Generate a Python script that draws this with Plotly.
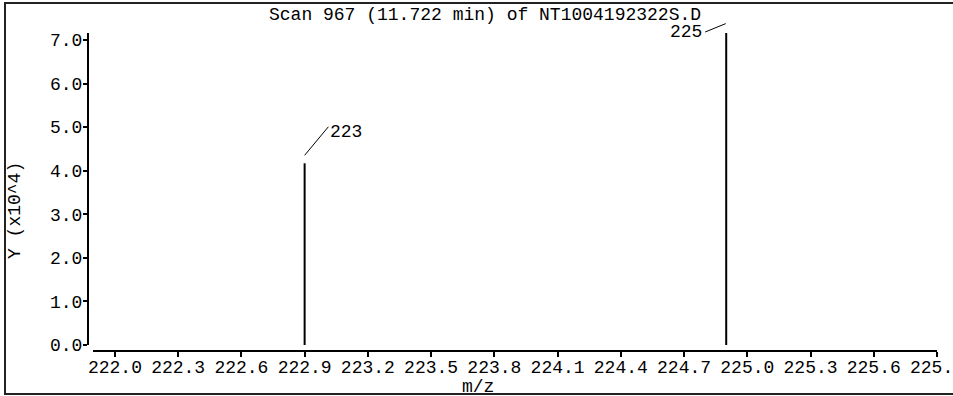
import plotly.graph_objects as go

# ---- data ----
peak_mz = [222.9, 224.9]
peak_intensity = [41700, 71600]
peak_labels = ["223", "225"]

x_tick_vals = [222.0, 222.3, 222.6, 222.9, 223.2, 223.5, 223.8, 224.1,
               224.4, 224.7, 225.0, 225.3, 225.6, 225.9]
x_tick_text = ["222.0", "222.3", "222.6", "222.9", "223.2", "223.5", "223.8",
               "224.1", "224.4", "224.7", "225.0", "225.3", "225.6", "225.9"]
y_tick_vals = [0, 10000, 20000, 30000, 40000, 50000, 60000, 70000]
y_tick_text = ["0.0", "1.0", "2.0", "3.0", "4.0", "5.0", "6.0", "7.0"]

title_text = "Scan 967 (11.722 min) of NT1004192322S.D"
x_title = "m/z"
y_title = "Y (x10^4)"

x_range = [221.896, 225.9]
y_range = [0, 71600]

FONT = "Liberation Mono"
FS = 18

# ---- build stick spectrum ----
xs, ys = [], []
for mz, inten in zip(peak_mz, peak_intensity):
    xs += [mz, mz, None]
    ys += [0, inten, None]

fig = go.Figure()
fig.add_trace(go.Scatter(x=xs, y=ys, mode="lines",
                         line=dict(color="black", width=2),
                         hoverinfo="skip", showlegend=False))

W, H = 953, 396
ml, mr, mt, mb = 88, 16, 33, 45
pw = W - ml - mr
ph = H - mt - mb

fig.update_layout(
    width=W, height=H,
    margin=dict(l=ml, r=mr, t=mt, b=mb, pad=0, autoexpand=False),
    paper_bgcolor="white", plot_bgcolor="white",
    font=dict(family=FONT, size=FS, color="black"),
    showlegend=False,
    xaxis=dict(range=x_range, domain=[5 / pw, 1], anchor="free", position=0,
               automargin=False,
               showgrid=False, zeroline=False, showline=True,
               linecolor="black", linewidth=2,
               ticks="outside", ticklen=5, tickwidth=2, tickcolor="black",
               tickvals=x_tick_vals, ticktext=x_tick_text,
               ticklabeloverflow="allow", ticklabelstandoff=-6,
               tickfont=dict(family=FONT, size=FS, color="black")),
    yaxis=dict(range=y_range, domain=[6 / ph, 1], anchor="free", position=0,
               automargin=False,
               showgrid=False, zeroline=False, showline=True,
               linecolor="black", linewidth=2,
               ticks="outside", ticklen=4, tickwidth=2, tickcolor="black",
               tickvals=y_tick_vals, ticktext=y_tick_text,
               ticklabelstandoff=-3,
               tickfont=dict(family=FONT, size=FS, color="black")),
)

# outer frame
fig.add_shape(type="rect", xref="paper", yref="paper",
              x0=(5 - ml) / pw, x1=1.2,
              y0=(H - mb - 394) / ph, y1=(H - mb - 3) / ph,
              line=dict(color="#222", width=2), fillcolor="rgba(0,0,0,0)")

annotations = [
    dict(text=title_text, xref="paper", yref="paper",
         x=(485 - ml) / pw, y=(H - mb - 15) / ph,
         xanchor="center", yanchor="middle", showarrow=False),
    dict(text=x_title, xref="paper", yref="paper",
         x=(478 - ml) / pw, y=(H - mb - 387) / ph,
         xanchor="center", yanchor="middle", showarrow=False),
    dict(text=y_title, xref="paper", yref="paper",
         x=(15 - ml) / pw, y=(H - mb - 211) / ph, textangle=-90,
         xanchor="center", yanchor="middle", showarrow=False),
]

# peak labels with leader lines (pixel offsets from the peak top)
label_offsets = [dict(hx=0, hy=8, ax=25, ay=-30, tx=41, ty=31),
                 dict(hx=-21, hy=1, ax=22, ay=-9, tx=-40, ty=1)]
for mz, inten, lab, off in zip(peak_mz, peak_intensity, peak_labels, label_offsets):
    annotations.append(dict(text="", xref="x", yref="y", x=mz, y=inten,
                            xshift=off["hx"], yshift=off["hy"],
                            ax=off["ax"], ay=off["ay"],
                            showarrow=True, arrowhead=0, arrowwidth=1,
                            arrowcolor="black", standoff=0, startstandoff=0))
    annotations.append(dict(text=lab, xref="x", yref="y", x=mz, y=inten,
                            xshift=off["tx"], yshift=off["ty"],
                            xanchor="center", yanchor="middle",
                            showarrow=False))

fig.update_layout(annotations=annotations)

fig.write_html("out.html", config={"displayModeBar": False},
               post_script="document.body.style.margin='0';document.body.style.overflow='hidden';")
